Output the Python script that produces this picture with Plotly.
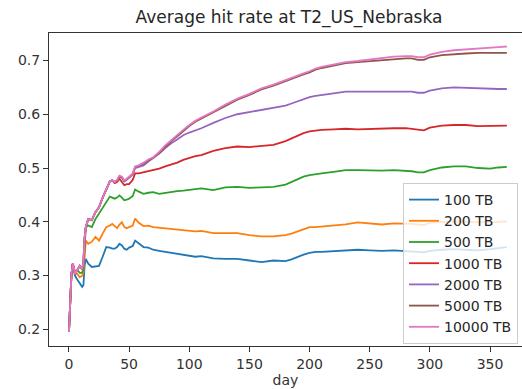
import plotly.graph_objects as go

days = [0, 1, 2, 3, 4, 5, 7, 9, 11, 12,
        13, 14, 16, 19, 22, 25, 28, 31, 34, 36,
        38, 40, 42, 44, 46, 48, 50, 53, 55, 58,
        62, 66, 70, 75, 80, 85, 90, 95, 100, 105,
        110, 120, 130, 140, 150, 160, 170, 180, 185, 190,
        195, 200, 205, 210, 220, 230, 240, 250, 260, 270,
        280, 285, 290, 295, 300, 310, 320, 330, 340, 350,
        357, 364]

hit_100 = [0.195, 0.26, 0.30, 0.32, 0.312, 0.300, 0.292, 0.286, 0.279, 0.282,
           0.318, 0.331, 0.322, 0.316, 0.317, 0.318, 0.335, 0.353, 0.352, 0.350,
           0.350, 0.353, 0.359, 0.356, 0.350, 0.348, 0.352, 0.355, 0.365, 0.360,
           0.353, 0.352, 0.348, 0.346, 0.344, 0.343, 0.341, 0.339, 0.336, 0.335,
           0.336, 0.332, 0.331, 0.331, 0.328, 0.325, 0.328, 0.327, 0.330, 0.335,
           0.339, 0.342, 0.344, 0.344, 0.345, 0.347, 0.348, 0.347, 0.346, 0.347,
           0.346, 0.345, 0.344, 0.343, 0.346, 0.348, 0.349, 0.348, 0.347, 0.349,
           0.351, 0.353]

hit_200 = [0.195, 0.26, 0.30, 0.32, 0.314, 0.303, 0.303, 0.297, 0.300, 0.305,
           0.345, 0.365, 0.359, 0.363, 0.372, 0.365, 0.378, 0.390, 0.393, 0.396,
           0.392, 0.388, 0.395, 0.399, 0.390, 0.388, 0.390, 0.393, 0.406, 0.398,
           0.392, 0.393, 0.390, 0.389, 0.387, 0.387, 0.386, 0.384, 0.383, 0.382,
           0.383, 0.379, 0.379, 0.379, 0.375, 0.373, 0.373, 0.375, 0.378, 0.382,
           0.386, 0.390, 0.390, 0.391, 0.393, 0.395, 0.399, 0.397, 0.395, 0.397,
           0.397, 0.396, 0.395, 0.394, 0.398, 0.400, 0.401, 0.400, 0.399, 0.399,
           0.400, 0.401]

hit_500 = [0.195, 0.26, 0.30, 0.32, 0.315, 0.303, 0.310, 0.305, 0.305, 0.315,
           0.365, 0.390, 0.393, 0.390, 0.405, 0.415, 0.425, 0.437, 0.447, 0.445,
           0.443, 0.445, 0.449, 0.445, 0.440, 0.441, 0.443, 0.448, 0.460, 0.456,
           0.452, 0.454, 0.455, 0.452, 0.454, 0.455, 0.457, 0.458, 0.459, 0.460,
           0.462, 0.459, 0.464, 0.465, 0.463, 0.464, 0.465, 0.469, 0.474, 0.479,
           0.484, 0.487, 0.489, 0.490, 0.493, 0.496, 0.496, 0.495, 0.495, 0.496,
           0.495, 0.494, 0.492, 0.492, 0.496, 0.501, 0.503, 0.503, 0.500, 0.499,
           0.501, 0.502]

hit_1000 = [0.195, 0.26, 0.30, 0.322, 0.316, 0.303, 0.312, 0.318, 0.312, 0.325,
            0.370, 0.390, 0.405, 0.403, 0.418, 0.427, 0.445, 0.461, 0.475, 0.477,
            0.472, 0.474, 0.480, 0.474, 0.468, 0.470, 0.470, 0.478, 0.490, 0.490,
            0.492, 0.495, 0.496, 0.499, 0.503, 0.506, 0.510, 0.515, 0.519, 0.522,
            0.524, 0.532, 0.537, 0.540, 0.539, 0.541, 0.543, 0.550, 0.555, 0.561,
            0.565, 0.568, 0.570, 0.571, 0.572, 0.573, 0.572, 0.573, 0.574, 0.574,
            0.574, 0.573, 0.571, 0.570, 0.575, 0.579, 0.580, 0.580, 0.578, 0.578,
            0.579, 0.579]

hit_2000 = [0.195, 0.26, 0.30, 0.322, 0.316, 0.303, 0.312, 0.318, 0.312, 0.325,
            0.370, 0.390, 0.405, 0.403, 0.418, 0.427, 0.445, 0.461, 0.475, 0.477,
            0.474, 0.477, 0.484, 0.482, 0.475, 0.478, 0.482, 0.488, 0.500, 0.502,
            0.505, 0.512, 0.518, 0.527, 0.537, 0.546, 0.553, 0.561, 0.566, 0.570,
            0.574, 0.584, 0.593, 0.600, 0.604, 0.607, 0.611, 0.616, 0.620, 0.624,
            0.628, 0.632, 0.634, 0.636, 0.639, 0.642, 0.642, 0.642, 0.642, 0.643,
            0.643, 0.642, 0.640, 0.640, 0.644, 0.648, 0.650, 0.649, 0.648, 0.647,
            0.647, 0.647]

hit_5000 = [0.195, 0.26, 0.30, 0.322, 0.316, 0.303, 0.312, 0.318, 0.312, 0.325,
            0.370, 0.390, 0.405, 0.403, 0.418, 0.427, 0.445, 0.461, 0.475, 0.477,
            0.474, 0.477, 0.485, 0.483, 0.476, 0.479, 0.483, 0.489, 0.502, 0.504,
            0.508, 0.514, 0.519, 0.528, 0.540, 0.550, 0.559, 0.569, 0.578, 0.586,
            0.592, 0.603, 0.616, 0.627, 0.636, 0.646, 0.653, 0.662, 0.665, 0.670,
            0.674, 0.678, 0.683, 0.686, 0.691, 0.695, 0.697, 0.699, 0.701, 0.703,
            0.704, 0.704, 0.701, 0.701, 0.706, 0.710, 0.712, 0.713, 0.714, 0.714,
            0.714, 0.714]

hit_10000 = [0.195, 0.26, 0.30, 0.322, 0.316, 0.303, 0.312, 0.318, 0.312, 0.325,
             0.370, 0.390, 0.405, 0.403, 0.418, 0.427, 0.445, 0.461, 0.475, 0.477,
             0.474, 0.478, 0.486, 0.484, 0.477, 0.480, 0.484, 0.490, 0.503, 0.505,
             0.510, 0.516, 0.520, 0.530, 0.542, 0.552, 0.561, 0.571, 0.580, 0.588,
             0.594, 0.605, 0.618, 0.629, 0.638, 0.648, 0.655, 0.664, 0.667, 0.672,
             0.676, 0.680, 0.685, 0.688, 0.693, 0.697, 0.699, 0.702, 0.704, 0.707,
             0.708, 0.708, 0.706, 0.706, 0.711, 0.716, 0.719, 0.721, 0.723, 0.724,
             0.725, 0.726]

series_names = ["100 TB", "200 TB", "500 TB", "1000 TB", "2000 TB", "5000 TB", "10000 TB"]
series_values = [hit_100, hit_200, hit_500, hit_1000, hit_2000, hit_5000, hit_10000]
colors = ["#1f77b4", "#ff7f0e", "#2ca02c", "#d62728", "#9467bd", "#8c564b", "#e377c2"]

fig = go.Figure()
for name, vals, col in zip(series_names, series_values, colors):
    fig.add_trace(go.Scatter(x=days, y=vals, mode="lines", name=name,
                             line=dict(color=col, width=1.8)))

W, H = 522, 389
ml, mr, mt, mb = 49, 0, 33, 43
pw, ph = W - ml - mr, H - mt - mb

axis_common = dict(showgrid=False, zeroline=False, showline=True, linecolor="#333",
                   linewidth=1, ticks="outside", ticklen=5, tickwidth=1, tickcolor="#333",
                   tickfont=dict(family="DejaVu Sans", size=14, color="#333"))

fig.update_layout(
    width=W, height=H,
    margin=dict(l=ml, r=mr, t=mt, b=mb, pad=0),
    paper_bgcolor="white", plot_bgcolor="white",
    font=dict(family="DejaVu Sans", size=14, color="#333"),
    title=dict(text="Average hit rate at T2_US_Nebraska", x=(289) / W, xanchor="center",
               y=1 - 17 / H, yanchor="middle",
               font=dict(family="DejaVu Sans", size=17, color="#262626")),
    xaxis=dict(range=[-16.6, (W - 69) / 1.2029], tickvals=[0, 50, 100, 150, 200, 250, 300, 350],
               mirror=True,
               title=dict(text="day", font=dict(family="DejaVu Sans", size=14, color="#333"), standoff=4),
               **axis_common),
    yaxis=dict(range=[0.169, 0.7511], tickvals=[0.2, 0.3, 0.4, 0.5, 0.6, 0.7],
               ticktext=["0.2", "0.3", "0.4", "0.5", "0.6", "0.7"], **axis_common),
    legend=dict(x=(403 - ml) / pw, y=(H - mb - 183) / ph, xanchor="left", yanchor="top",
                bgcolor="rgba(255,255,255,0.8)", bordercolor="#cccccc", borderwidth=1,
                font=dict(family="DejaVu Sans", size=14, color="#262626"),
                tracegroupgap=0),
    showlegend=True,
)

fig.write_html("out.html")
